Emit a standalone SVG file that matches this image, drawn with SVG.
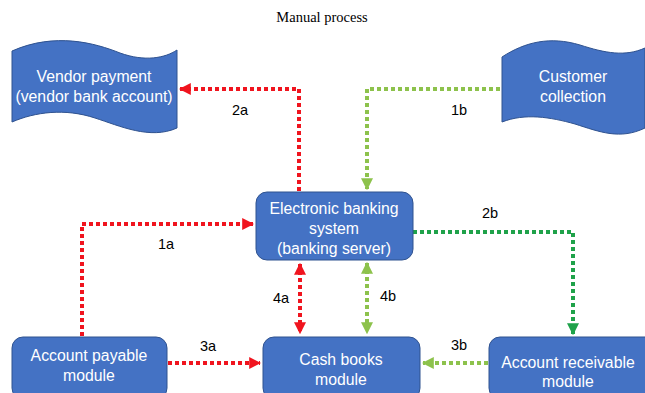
<svg xmlns="http://www.w3.org/2000/svg" width="645" height="393" viewBox="0 0 645 393">
<defs>
<style>
.node{fill:#4472C4;stroke:#2F528F;stroke-width:1}
.t{font-family:"Liberation Sans",Arial,sans-serif;font-size:15.8px;fill:#fff;text-anchor:middle}
.lbl{font-family:"Liberation Sans",Arial,sans-serif;font-size:14.5px;fill:#000;text-anchor:middle}
.red{fill:none;stroke:#F0141E;stroke-width:4;stroke-dasharray:4 3}
.lg{fill:none;stroke:#8DC24C;stroke-width:4;stroke-dasharray:4 3}
.dg{fill:none;stroke:#1FA24A;stroke-width:4;stroke-dasharray:4 3}
</style>
<marker id="ar" viewBox="0 0 10 10" refX="9" refY="5" markerWidth="3" markerHeight="3" orient="auto-start-reverse" markerUnits="strokeWidth"><path d="M0,0 L10,5 L0,10 Z" fill="#F0141E"/></marker>
<marker id="ag" viewBox="0 0 10 10" refX="9" refY="5" markerWidth="3" markerHeight="3" orient="auto-start-reverse" markerUnits="strokeWidth"><path d="M0,0 L10,5 L0,10 Z" fill="#8DC24C"/></marker>
<marker id="ad" viewBox="0 0 10 10" refX="9" refY="5" markerWidth="3" markerHeight="3" orient="auto-start-reverse" markerUnits="strokeWidth"><path d="M0,0 L10,5 L0,10 Z" fill="#1FA24A"/></marker>
</defs>
<rect width="645" height="393" fill="#fff"/>
<text x="322" y="22" style="font-family:'Liberation Serif','Times New Roman',serif;font-size:14.5px;fill:#000;text-anchor:middle">Manual process</text>

<g id="connectors">
<path class="red" d="M82,336 V224 H253" marker-end="url(#ar)"/>
<path class="red" d="M299,191 V89 H180" marker-end="url(#ar)"/>
<path class="lg" d="M500,89 H367 V189" marker-end="url(#ag)"/>
<path class="dg" d="M413,232 H573 V334" marker-end="url(#ad)"/>
<path class="red" d="M168,363 H260" marker-end="url(#ar)"/>
<path class="lg" d="M488,363 H423" marker-end="url(#ag)"/>
<path class="red" d="M300,264 V333" marker-start="url(#ar)" marker-end="url(#ar)"/>
<path class="lg" d="M367,263 V333" marker-start="url(#ag)" marker-end="url(#ag)"/>
<text class="lbl" x="166" y="249">1a</text>
<text class="lbl" x="240" y="115">2a</text>
<text class="lbl" x="459" y="115">1b</text>
<text class="lbl" x="490" y="218">2b</text>
<text class="lbl" x="208" y="351">3a</text>
<text class="lbl" x="459" y="350">3b</text>
<text class="lbl" x="281" y="303">4a</text>
<text class="lbl" x="388" y="301">4b</text>
</g>

<g id="vendor">
<path class="node" d="M12,51 C55,32 95,43 120,53 C145,62 165,58 177,50 L177,128 C150,140 120,126 95,118 C65,108 35,112 12,122 Z"/>
<text class="t" x="94" y="82">Vendor payment</text>
<text class="t" x="94" y="102">(vendor bank account)</text>
</g>

<g id="customer">
<path class="node" d="M502,57 C525,42 550,36 580,45 C605,53 625,57 645,48 L645,128 C620,140 600,132 575,124 C550,117 525,113 502,122 Z"/>
<text class="t" x="573" y="82">Customer</text>
<text class="t" x="573" y="102">collection</text>
</g>

<g id="ebank">
<rect class="node" x="256" y="192" width="157" height="68" rx="11"/>
<text class="t" x="334" y="214">Electronic banking</text>
<text class="t" x="334" y="234">system</text>
<text class="t" x="334" y="254">(banking server)</text>
</g>

<g id="payable">
<rect class="node" x="12" y="337" width="155" height="62" rx="11"/>
<text class="t" x="89" y="361">Account payable</text>
<text class="t" x="89" y="381">module</text>
</g>

<g id="cashbooks">
<rect class="node" x="263" y="337" width="157" height="62" rx="11"/>
<text class="t" x="341" y="365">Cash books</text>
<text class="t" x="341" y="385">module</text>
</g>

<g id="receivable">
<rect class="node" x="489" y="337" width="170" height="62" rx="11"/>
<text class="t" x="568" y="368">Account receivable</text>
<text class="t" x="568" y="387">module</text>
</g>
</svg>
